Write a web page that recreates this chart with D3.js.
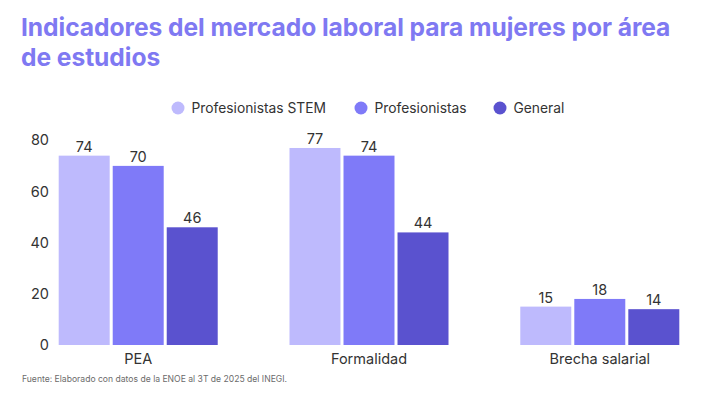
<!DOCTYPE html>
<script src="https://cdn.jsdelivr.net/npm/d3@7"></script>
<html>
<head>
<style>
  body { margin: 0; background: #fff; }
  svg { display: block; font-family: Inter, "Noto Sans", sans-serif; }
</style>
</head>
<body>
<div id="chart-div"></div>
<script>
  // chart data
  const categories = ["PEA", "Formalidad", "Brecha salarial"];
  const seriesNames = ["Profesionistas STEM", "Profesionistas", "General"];
  const stemValues = [74, 77, 15];
  const profValues = [70, 74, 18];
  const generalValues = [46, 44, 14];
  const yTicks = [0, 20, 40, 60, 80];
  const colors = ["#bebafd", "#7f7af8", "#5a52cf"];

  const width = 717, height = 394;
  const svg = d3.select("#chart-div").append("svg")
      .attr("width", width)
      .attr("height", height);

  // title
  const title = svg.append("text")
      .attr("fill", "#7f79f2")
      .attr("font-size", 24.6)
      .attr("font-weight", 700)
      .attr("letter-spacing", -0.05);
  title.append("tspan").attr("x", 21).attr("y", 36).text("Indicadores del mercado laboral para mujeres por área");
  title.append("tspan").attr("x", 21).attr("y", 66).text("de estudios");

  // legend
  const legendX = [178, 361, 500];
  const legend = svg.append("g");
  seriesNames.forEach((name, i) => {
    legend.append("circle")
        .attr("cx", legendX[i]).attr("cy", 108).attr("r", 6.5)
        .attr("fill", colors[i]);
    legend.append("text")
        .attr("x", legendX[i] + 13.5).attr("y", 113)
        .attr("font-size", 13.8)
        .attr("fill", "#333")
        .text(name);
  });

  const rows = categories.map((c, i) => ({
    category: c,
    values: [stemValues[i], profValues[i], generalValues[i]]
  }));

  // scales
  const y = d3.scaleLinear().domain([0, 80]).range([345, 140.3]);
  const x0 = d3.scaleBand().domain(categories).range([58.7, 679.3]).paddingInner(0.311).paddingOuter(0);
  const x1 = d3.scaleBand().domain(d3.range(3)).range([0, x0.bandwidth()]).paddingInner(0.056);

  // y axis
  const yAxis = svg.append("g")
      .attr("transform", "translate(49,0)")
      .call(d3.axisLeft(y).tickValues(yTicks).tickSize(0).tickPadding(0));
  yAxis.select(".domain").remove();
  yAxis.selectAll("text")
      .attr("font-family", "Inter, sans-serif")
      .attr("font-size", 14.5)
      .attr("fill", "#333");

  // bars
  const groups = svg.selectAll("g.group")
      .data(rows)
      .enter().append("g")
      .attr("class", "group")
      .attr("transform", d => "translate(" + x0(d.category) + ",0)");

  groups.selectAll("rect")
      .data(d => d.values)
      .enter().append("rect")
      .attr("x", (d, i) => x1(i))
      .attr("y", d => y(d))
      .attr("width", x1.bandwidth())
      .attr("height", d => y(0) - y(d))
      .attr("fill", (d, i) => colors[i]);

  groups.selectAll("text.value")
      .data(d => d.values)
      .enter().append("text")
      .attr("class", "value")
      .attr("x", (d, i) => x1(i) + x1.bandwidth() / 2)
      .attr("y", d => y(d) - 4)
      .attr("text-anchor", "middle")
      .attr("font-size", 14.5)
      .attr("fill", "#333")
      .text(d => d);

  // x axis labels
  const xAxis = svg.append("g")
      .attr("transform", "translate(0,345)")
      .call(d3.axisBottom(x0).tickSize(0).tickPadding(9));
  xAxis.select(".domain").remove();
  xAxis.selectAll("text")
      .attr("font-family", "Inter, sans-serif")
      .attr("font-size", 14.5)
      .attr("fill", "#333");

  // source
  svg.append("text")
      .attr("x", 22).attr("y", 382)
      .attr("font-size", 8.6)
      .attr("fill", "#6b6b6b")
      .text("Fuente: Elaborado con datos de la ENOE al 3T de 2025 del INEGI.");
</script>
</body>
</html>
